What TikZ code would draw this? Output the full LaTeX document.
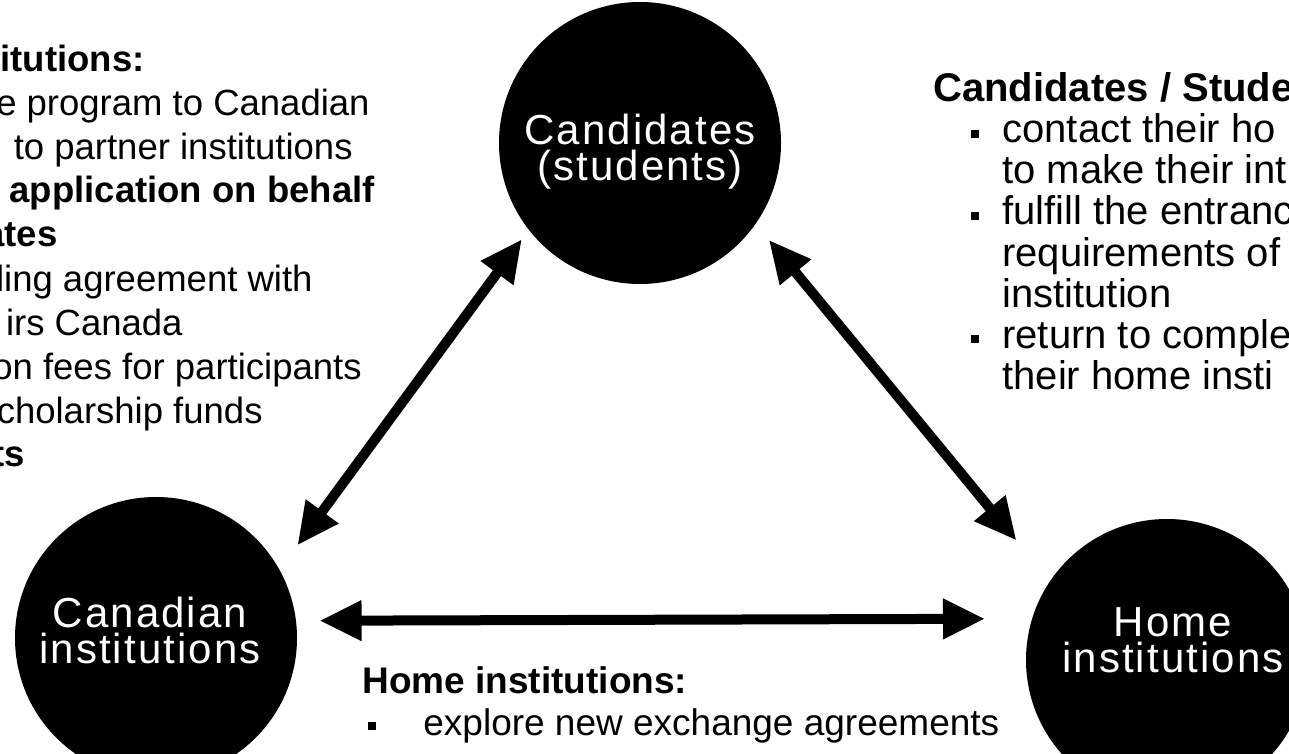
\documentclass[tikz,border=0pt]{standalone}
\usepackage{fontspec}
\setmainfont{Liberation Sans}
\newfontfamily\lblfont[LetterSpace=5]{Liberation Sans}
\usetikzlibrary{arrows.meta}
\begin{document}
\begin{tikzpicture}[x=0.5pt,y=-0.5pt,
  blob/.style={circle, fill=black, draw=none, minimum size=141pt, inner sep=0pt},
  lbl/.style={text=white, anchor=center, align=center, inner sep=0pt, font=\lblfont\fontsize{21pt}{18pt}\selectfont},
  ltxt/.style={anchor=base east, inner sep=0pt, font=\fontsize{18.25pt}{22pt}\selectfont},
  ltxtb/.style={anchor=base east, inner sep=0pt, font=\bfseries\fontsize{18.25pt}{22pt}\selectfont},
  rtxt/.style={anchor=base west, inner sep=0pt, font=\fontsize{20pt}{20.5pt}\selectfont},
  rtxtb/.style={anchor=base west, inner sep=0pt, font=\bfseries\fontsize{20pt}{20.5pt}\selectfont},
  btxt/.style={anchor=base west, inner sep=0pt, font=\fontsize{18.5pt}{22pt}\selectfont},
  btxtb/.style={anchor=base west, inner sep=0pt, font=\bfseries\fontsize{18.5pt}{22pt}\selectfont},
  bul/.style={rectangle, fill=black, draw=none, minimum size=4pt, inner sep=0pt},
  biarrow/.style={line width=5pt, {Triangle[length=21pt,width=19pt]}-{Triangle[length=21pt,width=19pt]}}
]
\useasboundingbox (0,0) rectangle (1289,754);
\clip (0,0) rectangle (1289,754);

% circles
\node[blob] (cand) at (640,143) {};
\node[blob] (can) at (156,638) {};
\node[blob] (home) at (1167,660) {};

% circle labels
\node[lbl] (candL) at (640,152) {Candidates\\(students)};
\node[lbl] (canL) at (150,630) {Canadian\\institutions};
\node[lbl] (homeL) at (1173,640) {Home\\institutions};

% connectors
\draw[biarrow, shorten <=5.7pt, shorten >=15pt] (cand.218.6) -- (can.29.2);
\draw[biarrow, shorten <=10.25pt, shorten >=26.2pt] (cand.325.4) -- (home.146.7);
\draw[biarrow, shorten <=11.6pt, shorten >=23.4pt] (can.7.3) -- (home.163.5);

% left text block (cut at the left edge)
\node[ltxtb] (l1) at (145,72) {itutions:};
\node[ltxt] (l2) at (370,116) {e program to Canadian};
\node[ltxt] (l3) at (353,160) {to partner institutions};
\node[ltxtb] (l4) at (375,203) {application on behalf};
\node[ltxtb] (l5) at (58,247) {ates};
\node[ltxt] (l6) at (313,291) {ling agreement with};
\node[ltxt] (l7) at (183,335) {irs Canada};
\node[ltxt] (l8) at (362,379) {on fees for participants};
\node[ltxt] (l9) at (263,423) {cholarship funds};
\node[ltxtb] (l10) at (25,466) {ts};

% right text block (cut at the right edge)
\node[rtxtb] (r0) at (933,102) {Candidates / Stude};
\node[bul] (rb1) at (975,134) {};
\node[rtxt] (r1) at (1002,143) {contact their ho};
\node[rtxt] (r2) at (1002,184) {to make their int};
\node[bul] (rb2) at (975,216) {};
\node[rtxt] (r3) at (1002,225) {fulfill the entranc};
\node[rtxt] (r4) at (1002,266) {requirements of};
\node[rtxt] (r5) at (1002,307) {institution};
\node[bul] (rb3) at (975,339) {};
\node[rtxt] (r6) at (1002,348) {return to comple};
\node[rtxt] (r7) at (1002,389) {their home insti};

% bottom text block
\node[btxtb] (b0) at (362,693) {Home institutions:};
\node[bul] (bb1) at (372,726) {};
\node[btxt] (b1) at (423,735) {explore new exchange agreements};
\end{tikzpicture}
\end{document}
